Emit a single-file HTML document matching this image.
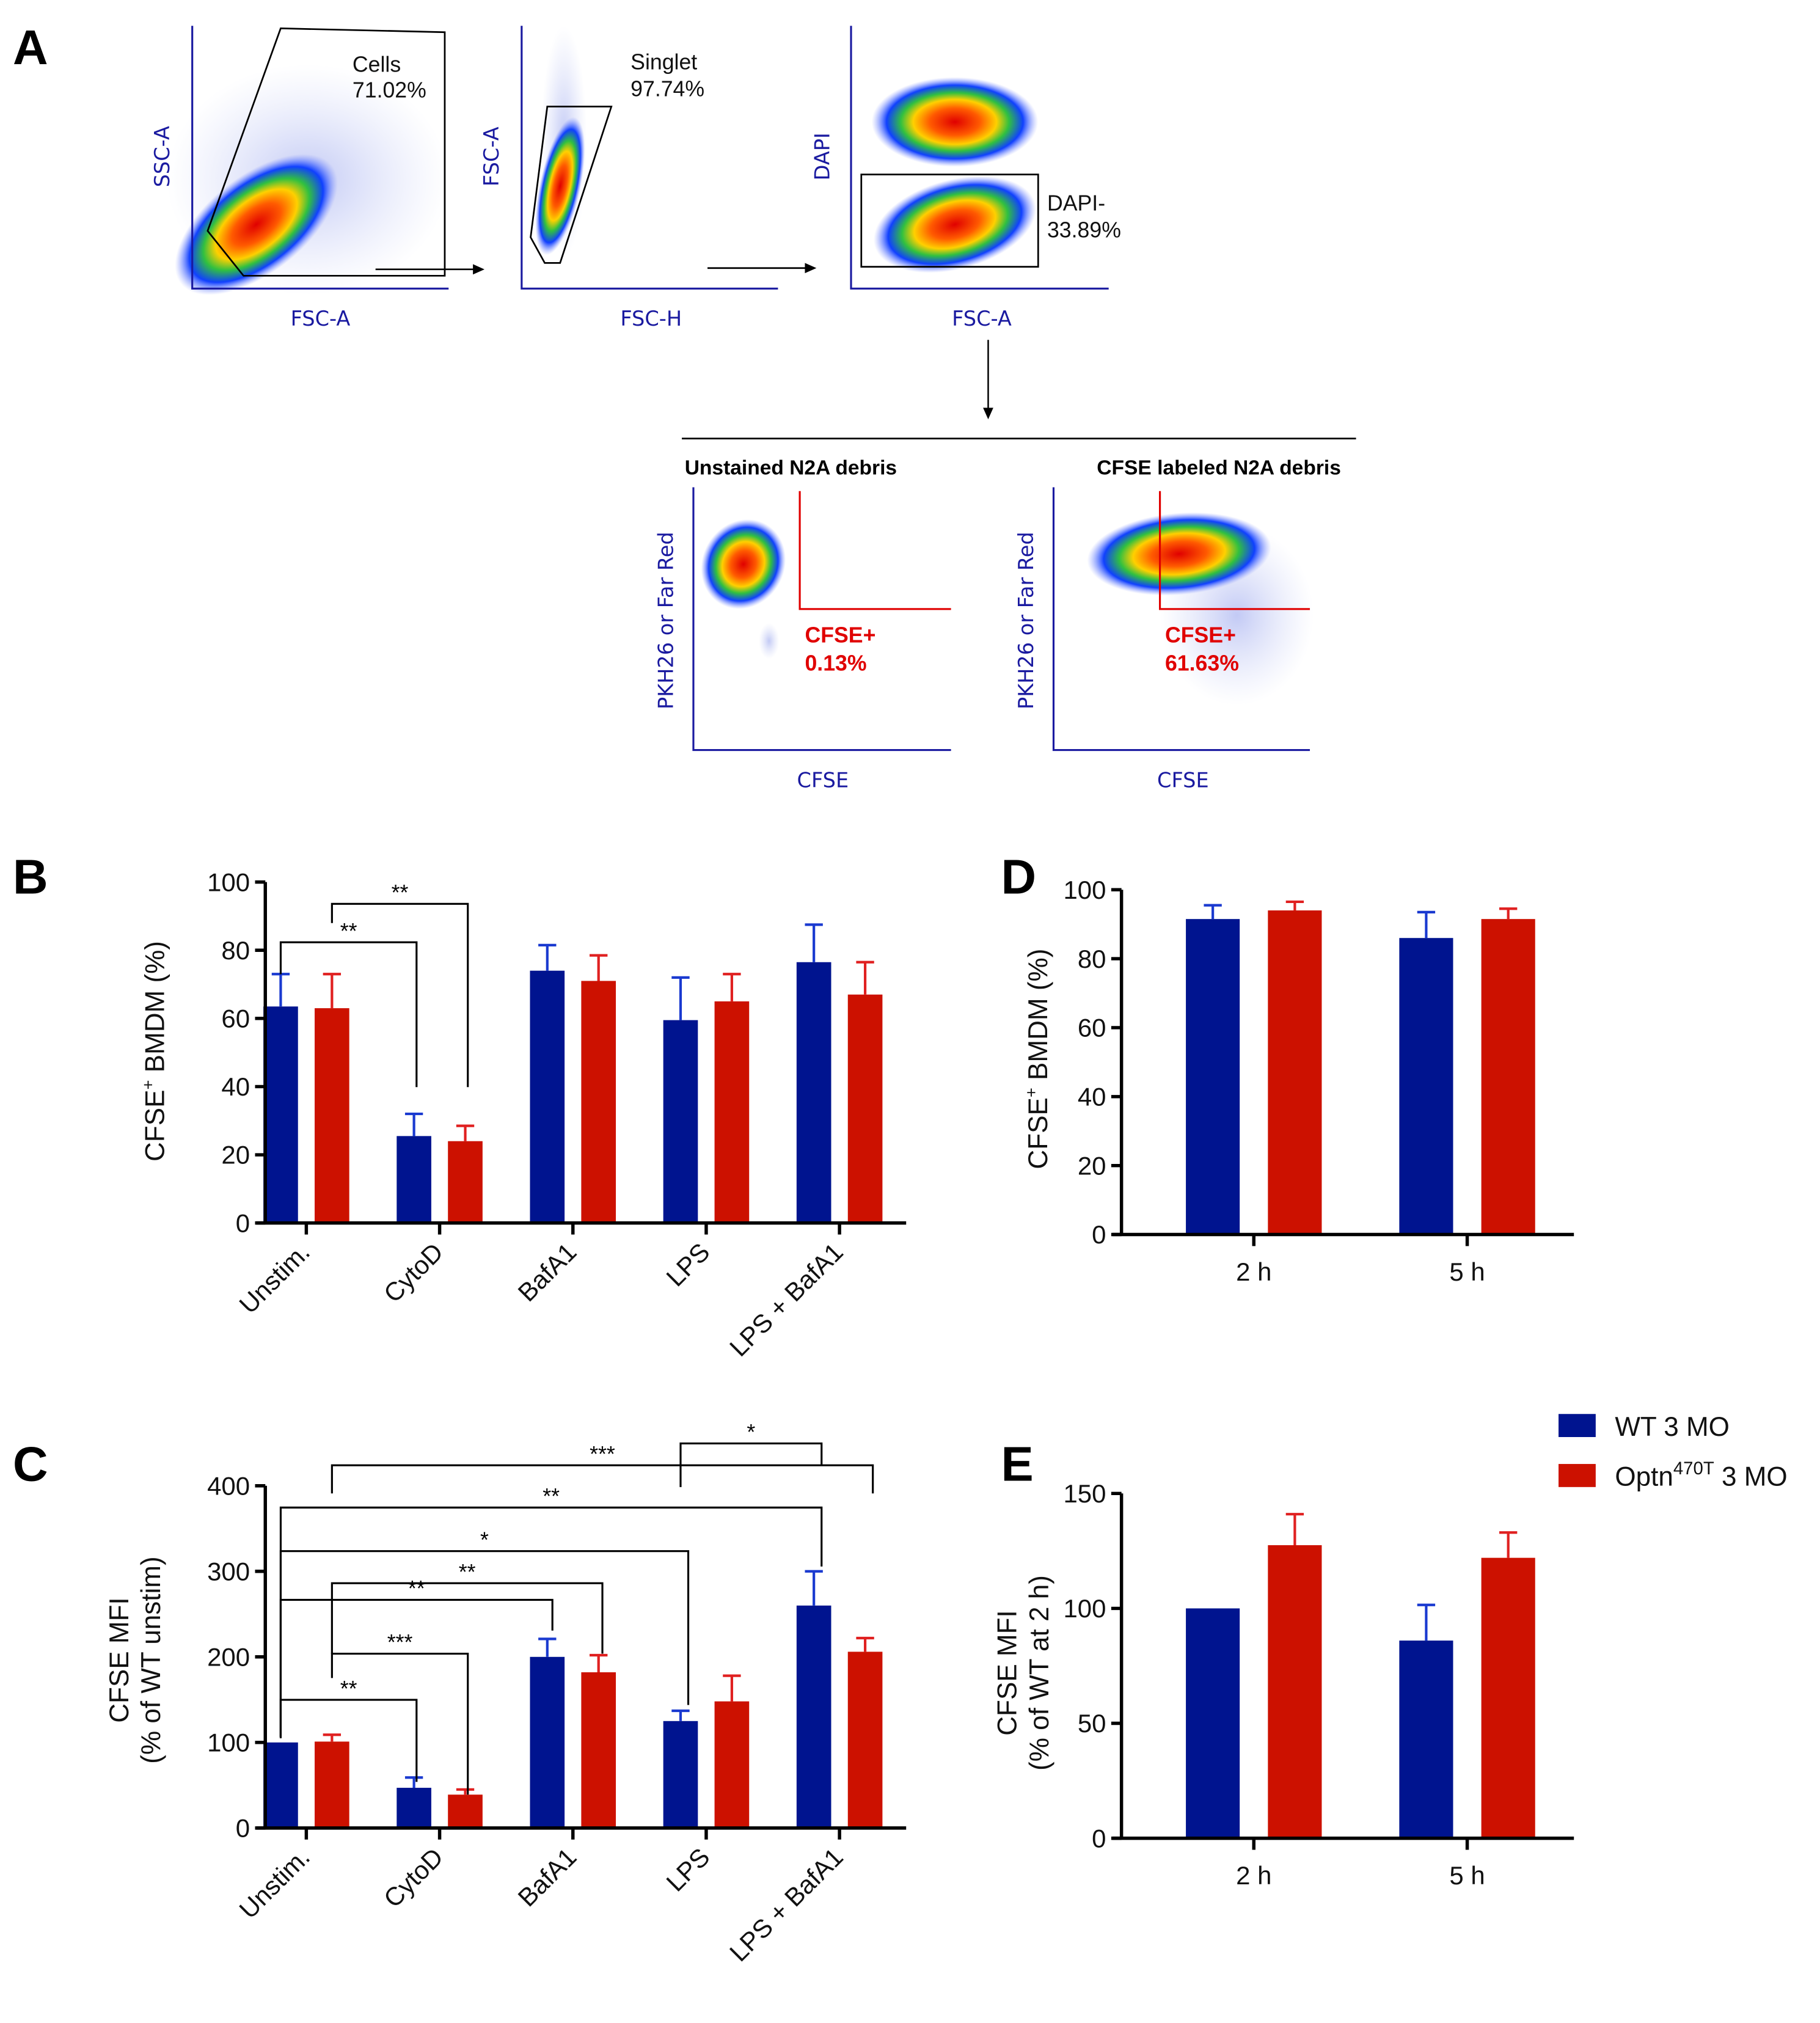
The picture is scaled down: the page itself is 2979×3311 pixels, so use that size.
<!DOCTYPE html>
<html><head><meta charset="utf-8">
<style>
html,body{margin:0;padding:0;background:#fff;}
svg{display:block;font-family:"Liberation Sans",sans-serif;}
.fl{fill:#1a1aa0;font-size:16px;font-family:"DejaVu Sans","Liberation Sans",sans-serif;}
.gt{font-size:17px;fill:#111;}
.tk{font-size:20px;fill:#111;}
.lab{font-size:21px;fill:#111;}
.let{font-size:38px;font-weight:bold;fill:#000;}
</style></head>
<body>
<svg id="fig" width="2979" height="3311" viewBox="0 0 1420 1578" xmlns="http://www.w3.org/2000/svg">
<defs>
<radialGradient id="dens">
<stop offset="0" stop-color="#e00000"/>
<stop offset="0.3" stop-color="#ff5a00"/>
<stop offset="0.5" stop-color="#ffd000"/>
<stop offset="0.65" stop-color="#30c040"/>
<stop offset="0.82" stop-color="#1040ff"/>
<stop offset="1" stop-color="#8090ff" stop-opacity="0"/>
</radialGradient>
<radialGradient id="haze">
<stop offset="0" stop-color="#9aa6ee" stop-opacity="0.6"/>
<stop offset="1" stop-color="#c0c8f4" stop-opacity="0"/>
</radialGradient>
</defs>

<text class="let" x="10" y="50">A</text>
<text class="let" x="10" y="697">B</text>
<text class="let" x="10" y="1155">C</text>
<text class="let" x="781" y="697">D</text>
<text class="let" x="781" y="1155">E</text>

<g>
<ellipse cx="240" cy="140" rx="110" ry="90" fill="url(#haze)"/>
<ellipse cx="200" cy="175" rx="75" ry="38" transform="rotate(-38 200 175)" fill="url(#dens)"/>
<path d="M150,20 V225 H350" fill="none" stroke="#1a1aa0" stroke-width="1.5"/>
<polygon points="162,180 219,22 347,25 347,215 190,215" fill="none" stroke="#000" stroke-width="1.3"/>
<text class="gt" x="275" y="56">Cells</text><text class="gt" x="275" y="76">71.02%</text>
<text class="fl" x="250" y="254" text-anchor="middle">FSC-A</text>
<text class="fl" transform="translate(132,122) rotate(-90)" text-anchor="middle">SSC-A</text>
</g>
<line x1="293" y1="210" x2="372" y2="210" stroke="#000" stroke-width="1.3"/><polygon points="378,210 369,206 369,214" fill="#000"/>
<g>
<ellipse cx="440" cy="110" rx="18" ry="90" fill="url(#haze)"/>
<ellipse cx="437" cy="145" rx="16" ry="55" transform="rotate(12 437 145)" fill="url(#dens)"/>
<path d="M407,20 V225 H607" fill="none" stroke="#1a1aa0" stroke-width="1.5"/>
<polygon points="427,83 477,83 437,205 425,205 414,185" fill="none" stroke="#000" stroke-width="1.3"/>
<text class="gt" x="492" y="54">Singlet</text><text class="gt" x="492" y="75">97.74%</text>
<text class="fl" x="508" y="254" text-anchor="middle">FSC-H</text>
<text class="fl" transform="translate(389,122) rotate(-90)" text-anchor="middle">FSC-A</text>
</g>
<line x1="552" y1="209" x2="631" y2="209" stroke="#000" stroke-width="1.3"/><polygon points="637,209 628,205 628,213" fill="#000"/>
<g>
<ellipse cx="745" cy="95" rx="65" ry="35" fill="url(#dens)"/>
<ellipse cx="745" cy="175" rx="65" ry="35" transform="rotate(-15 745 175)" fill="url(#dens)"/>
<path d="M664,20 V225 H865" fill="none" stroke="#1a1aa0" stroke-width="1.5"/>
<rect x="672" y="136" width="138" height="72" fill="none" stroke="#000" stroke-width="1.3"/>
<text class="gt" x="817" y="164">DAPI-</text><text class="gt" x="817" y="185">33.89%</text>
<text class="fl" x="766" y="254" text-anchor="middle">FSC-A</text>
<text class="fl" transform="translate(647,122) rotate(-90)" text-anchor="middle">DAPI</text>
</g>
<line x1="771" y1="265" x2="771" y2="320" stroke="#000" stroke-width="1.2"/><polygon points="771,327 767,318 775,318" fill="#000"/>
<line x1="532" y1="342" x2="1058" y2="342" stroke="#000" stroke-width="1.3"/>
<g>
<text x="617" y="370" text-anchor="middle" style="font-size:16px;font-weight:bold">Unstained N2A debris</text>
<ellipse cx="580" cy="440" rx="32" ry="36" transform="rotate(30 580 440)" fill="url(#dens)"/>
<ellipse cx="600" cy="500" rx="8" ry="14" fill="url(#haze)"/>
<path d="M541,380 V585 H742" fill="none" stroke="#1a1aa0" stroke-width="1.5"/>
<path d="M624,383 V475 H742" fill="none" stroke="#e00000" stroke-width="1.5"/>
<text x="628" y="501" style="font-size:17px;font-weight:bold;fill:#e00000">CFSE+</text>
<text x="628" y="523" style="font-size:17px;font-weight:bold;fill:#e00000">0.13%</text>
<text class="fl" x="642" y="614" text-anchor="middle">CFSE</text>
<text class="fl" transform="translate(525,484) rotate(-90)" text-anchor="middle">PKH26 or Far Red</text>
</g>
<g>
<text x="951" y="370" text-anchor="middle" style="font-size:16px;font-weight:bold">CFSE labeled N2A debris</text>
<ellipse cx="965" cy="480" rx="60" ry="70" fill="url(#haze)"/>
<ellipse cx="920" cy="432" rx="72" ry="32" transform="rotate(-5 920 432)" fill="url(#dens)"/>
<path d="M822,380 V585 H1022" fill="none" stroke="#1a1aa0" stroke-width="1.5"/>
<path d="M905,383 V475 H1022" fill="none" stroke="#e00000" stroke-width="1.5"/>
<text x="909" y="501" style="font-size:17px;font-weight:bold;fill:#e00000">CFSE+</text>
<text x="909" y="523" style="font-size:17px;font-weight:bold;fill:#e00000">61.63%</text>
<text class="fl" x="923" y="614" text-anchor="middle">CFSE</text>
<text class="fl" transform="translate(806,484) rotate(-90)" text-anchor="middle">PKH26 or Far Red</text>
</g>

<text class="lab" transform="translate(128,820) rotate(-90)" text-anchor="middle">CFSE<tspan dy="-8" style="font-size:13px">+</tspan><tspan dy="8"> BMDM (%)</tspan></text>
<text class="lab" transform="translate(100,1295) rotate(-90)" text-anchor="middle">CFSE MFI</text>
<text class="lab" transform="translate(125,1295) rotate(-90)" text-anchor="middle">(% of WT unstim)</text>
<text class="lab" transform="translate(817,826) rotate(-90)" text-anchor="middle">CFSE<tspan dy="-8" style="font-size:13px">+</tspan><tspan dy="8"> BMDM (%)</tspan></text>
<text class="lab" transform="translate(793,1305) rotate(-90)" text-anchor="middle">CFSE MFI</text>
<text class="lab" transform="translate(818,1305) rotate(-90)" text-anchor="middle">(% of WT at 2 h)</text>

<g>
<rect x="1216" y="1103" width="29" height="18" fill="#00148f"/>
<text class="lab" x="1260" y="1120">WT 3 MO</text>
<rect x="1216" y="1142" width="29" height="18" fill="#cc1100"/>
<text class="lab" x="1260" y="1159">Optn<tspan dy="-9" style="font-size:14px">470T</tspan><tspan dy="9"> 3 MO</tspan></text>
</g>
<g id="charts"></g>
</svg>
<script>
const catsB = ["Unstim.","CytoD","BafA1","LPS","LPS + BafA1"];
const wtB = [63.5,25.5,74,59.5,76.5];
const wtErrB = [9.5,6.5,7.5,12.5,11];
const opB = [63,24,71,65,67];
const opErrB = [10,4.5,7.5,8,9.5];
const ticksB = [0,20,40,60,80,100];
const catsC = ["Unstim.","CytoD","BafA1","LPS","LPS + BafA1"];
const wtC = [100,47,200,125,260];
const wtErrC = [0,12,21,12,40];
const opC = [101,39,182,148,206];
const opErrC = [8,6,20,30,16];
const ticksC = [0,100,200,300,400];
const catsD = ["2 h","5 h"];
const wtD = [91.5,86];
const wtErrD = [4,7.5];
const opD = [94,91.5];
const opErrD = [2.5,3];
const ticksD = [0,20,40,60,80,100];
const catsE = ["2 h","5 h"];
const wtE = [100,86];
const wtErrE = [0,15.5];
const opE = [127.5,122];
const opErrE = [13.5,11];
const ticksE = [0,50,100,150];

const NS="http://www.w3.org/2000/svg";
const root=document.getElementById('charts');
function mk(tag,attrs,parent){const e=document.createElementNS(NS,tag);for(const k in attrs)e.setAttribute(k,attrs[k]);(parent||root).appendChild(e);return e;}

function chart(o){
  const g=mk('g',{});
  
  
  const y=v=>o.y0-(v/o.max)*(o.y0-o.yTop);
  const n=o.cats.length;
  const gw=(o.xEnd-o.x0)/n;
  const cx=i=>o.x0+gw*(i+0.5);
  const series=[[o.wt,o.wtE,'#00148f','#1a3ad0',-1],[o.op,o.opE,'#cc1100','#e02020',1]];
  series.forEach((s,si)=>{
    s[0].forEach((v,i)=>{
      const bx=cx(i)+s[4]*o.off-o.bw/2;
      const r=mk('rect',{x:bx,y:y(v),width:o.bw,height:o.y0-y(v),fill:s[2]},g);
      
      
      if(s[1][i]>0){
        const ex=cx(i)+s[4]*o.off;
        const e=mk('path',{d:`M${ex},${y(v)} V${y(v+s[1][i])} M${ex-7},${y(v+s[1][i])} H${ex+7}`,stroke:s[3],'stroke-width':2,fill:'none'},g);
        
        
      }
    });
  });
  const ax=mk('path',{d:`M${o.ax},${o.yTop} V${o.y0} M${o.ax-7},${o.y0} H${o.xEnd}`,stroke:'#000','stroke-width':2.6,fill:'none'},g);
  
  
  o.ticks.forEach(t=>{
    mk('line',{x1:o.ax-8,x2:o.ax,y1:y(t),y2:y(t),stroke:'#000','stroke-width':2.6},g);
    const tl=mk('text',{x:o.ax-12,y:y(t)+7,'text-anchor':'end',class:'tk'},g);
    tl.textContent=t;
    
    
  });
  o.cats.forEach((c,i)=>{
    mk('line',{x1:cx(i),x2:cx(i),y1:o.y0,y2:o.y0+9,stroke:'#000','stroke-width':2.6},g);
    let t;
    if(o.rot){
      t=mk('text',{transform:`translate(${cx(i)+4},${o.y0+24}) rotate(-45)`,'text-anchor':'end',class:'tk'},g);
    } else {
      t=mk('text',{x:cx(i),y:o.y0+36,'text-anchor':'middle',class:'tk'},g);
    }
    t.textContent=c;
    
    
  });
  return {y,cx};
}
function bracket(x1,x2,yt,yl,yr,label){
  const p=mk('path',{d:`M${x1},${yl} V${yt} H${x2} V${yr}`,stroke:'#000','stroke-width':1.5,fill:'none'});
  
  
  const t=mk('text',{x:(x1+x2)/2,y:yt-3,'text-anchor':'middle',style:'font-size:17px'});
  t.textContent=label;
  
  
}
chart({name:'chart-b',cats:catsB,wt:wtB,wtE:wtErrB,op:opB,opE:opErrB,ticks:ticksB,max:100,y0:954,yTop:688,ax:207,x0:187,xEnd:707,bw:27,off:20,rot:true});
chart({name:'chart-c',cats:catsC,wt:wtC,wtE:wtErrC,op:opC,opE:opErrC,ticks:ticksC,max:400,y0:1426,yTop:1159,ax:207,x0:187,xEnd:707,bw:27,off:20,rot:true});
chart({name:'chart-d',cats:catsD,wt:wtD,wtE:wtErrD,op:opD,opE:opErrD,ticks:ticksD,max:100,y0:963,yTop:694,ax:875,x0:895,xEnd:1228,bw:42,off:32,rot:false});
chart({name:'chart-e',cats:catsE,wt:wtE,wtE:wtErrE,op:opE,opE:opErrE,ticks:ticksE,max:150,y0:1434,yTop:1165,ax:875,x0:895,xEnd:1228,bw:42,off:32,rot:false});
bracket(219,325,735,760,848,'**');
bracket(259,365,705,720,848,'**');
bracket(219,325,1326,1356,1390,'**');
bracket(259,365,1290,1309,1400,'***');
bracket(219,431,1248,1355,1272,'**');
bracket(259,470,1235,1290,1290,'**');
bracket(219,537,1210,1355,1330,'*');
bracket(219,641,1176,1355,1222,'**');
bracket(259,681,1143,1165,1165,'***');
bracket(531,641,1126,1160,1143,'*');
</script>
</body></html>
